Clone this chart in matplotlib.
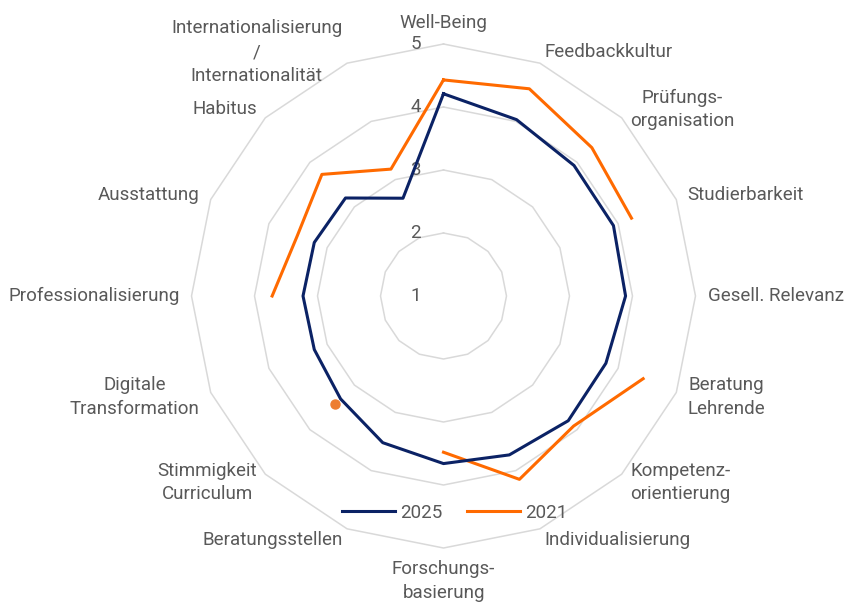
import numpy as np
import matplotlib
matplotlib.use("Agg")
import matplotlib.pyplot as plt

categories = ["Well-Being", "Feedbackkultur", "Prüfungs-\norganisation", "Studierbarkeit",
              "Gesell. Relevanz", "Beratung\nLehrende", "Kompetenz-\norientierung",
              "Individualisierung", "Forschungs-\nbasierung", "Beratungsstellen",
              "Stimmigkeit\nCurriculum", "Digitale\nTransformation", "Professionalisierung",
              "Ausstattung", "Habitus", "Internationalisierung\n/\nInternationalität"]
values_2025 = [4.21, 4.03, 3.93, 3.92, 3.89, 3.79, 3.80, 3.73, 3.66, 3.52,
               3.31, 3.22, 3.23, 3.22, 3.20, 2.68]
values_2021 = [4.43, 4.56, 4.33, 4.23, np.nan, 4.43, 3.92, 4.15, 3.48, np.nan,
               3.43, np.nan, 3.72, 3.51, 3.73, 3.18]
series_names = ["2025", "2021"]
ticks = [1, 2, 3, 4, 5]

NAVY = "#0B2265"
ORANGE = "#FF6A00"
DOT = "#ED7D31"
GRID = "#D9D9D9"
TXT = "#595959"
FONT = "Roboto"
FS = 13.5

plt.rcParams['font.family'] = [FONT, 'DejaVu Sans']

W, H = 846, 602
fig = plt.figure(figsize=(W / 100, H / 100), dpi=100)
cx, cy, R = 443.5, 296, 252
ax = fig.add_axes([(cx - R) / W, 1 - (cy + R) / H, 2 * R / W, 2 * R / H], projection='polar')
ax.set_theta_zero_location('N')
ax.set_theta_direction(-1)
ax.set_ylim(ticks[0], ticks[-1])
ax.grid(False)
ax.spines['polar'].set_visible(False)
ax.set_xticks([])
ax.set_yticks([])
ax.patch.set_alpha(0)

n = len(categories)
angles = np.arange(n) * 2 * np.pi / n
ang_c = np.append(angles, angles[0])

# polygon grid
for t in ticks[1:]:
    ax.plot(ang_c, np.full(n + 1, t), color=GRID, lw=1.1, zorder=1, clip_on=False)

# tick labels
for t in ticks:
    ax.annotate(str(t), xy=(0, t), xytext=(-28, 0), textcoords='offset pixels',
                ha='center', va='center', fontsize=FS, color=TXT, zorder=2)

# series
v25 = np.append(values_2025, values_2025[0])
v21 = np.append(values_2021, values_2021[0])
l1, = ax.plot(ang_c, v25, color=NAVY, lw=2.2, zorder=4, clip_on=False, label=series_names[0])
l2, = ax.plot(ang_c, v21, color=ORANGE, lw=2.2, zorder=3, clip_on=False, label=series_names[1])

# isolated points (both neighbours missing) shown as markers
arr = np.array(values_2021, dtype=float)
iso = [i for i in range(n) if not np.isnan(arr[i]) and np.isnan(arr[i - 1]) and np.isnan(arr[(i + 1) % n])]
ax.plot(angles[iso], arr[iso], 'o', color=DOT, ms=6.5, zorder=3, clip_on=False)

# category labels
r_lab = 1 + 264 / 63
for a, lab in zip(angles, categories):
    deg = np.degrees(a)
    if abs(deg) < 1:
        ha, va = 'center', 'bottom'
    elif abs(deg - 180) < 1:
        ha, va = 'center', 'top'
    elif deg < 180:
        ha, va = 'left', 'center'
    else:
        ha, va = 'right', 'center'
    ax.text(a, r_lab, lab, ha=ha, va=va, multialignment='center', fontsize=FS,
            color=TXT, linespacing=1.4, clip_on=False)

fig.legend(handles=[l1, l2], labels=series_names, loc='center',
           bbox_to_anchor=(455 / W, 1 - 513 / H), ncol=2, frameon=False,
           fontsize=FS, handlelength=2.8, handletextpad=0.3, columnspacing=1.3,
           labelcolor=TXT)

fig.savefig("out.png", dpi=100)
